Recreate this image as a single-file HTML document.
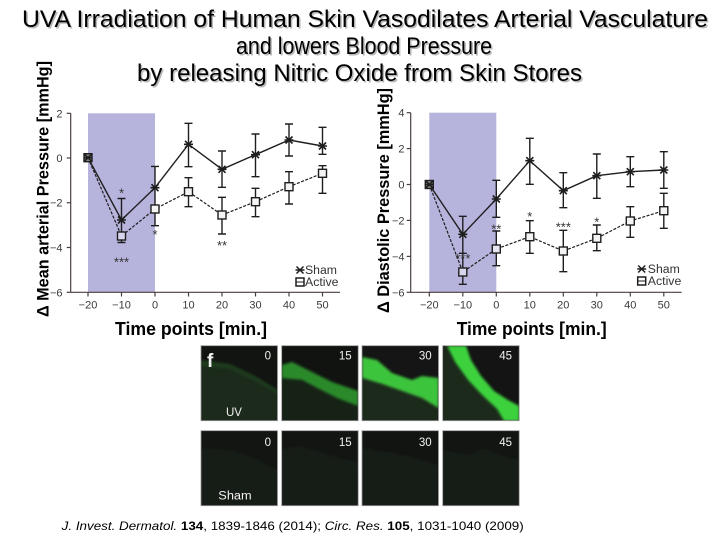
<!DOCTYPE html>
<html><head><meta charset="utf-8"><style>
html,body{margin:0;padding:0;background:#fff;}
svg{display:block;}
</style></head><body>
<svg width="720" height="540" viewBox="0 0 720 540" xmlns="http://www.w3.org/2000/svg">
<defs>
<filter id="bl" x="-20%" y="-20%" width="140%" height="140%"><feGaussianBlur stdDeviation="1.4"/></filter>
<clipPath id="c1"><rect x="201" y="345.7" width="76.5" height="75"/></clipPath>
<clipPath id="c2"><rect x="281.7" y="345.7" width="76.5" height="75"/></clipPath>
<clipPath id="c3"><rect x="362" y="345.7" width="76.5" height="75"/></clipPath>
<clipPath id="c4"><rect x="442.7" y="345.7" width="76.5" height="75"/></clipPath>
<clipPath id="d1"><rect x="201" y="430.7" width="76.5" height="75"/></clipPath>
<clipPath id="d2"><rect x="281.7" y="430.7" width="76.5" height="75"/></clipPath>
<clipPath id="d3"><rect x="362" y="430.7" width="76.5" height="75"/></clipPath>
<clipPath id="d4"><rect x="442.7" y="430.7" width="76.5" height="75"/></clipPath>
</defs>

<!-- Title -->
<g font-family="Liberation Sans, sans-serif" font-size="24" text-anchor="middle">
<g fill="#b8b8b8" transform="translate(1.5,1.5)">
<text x="365" y="27" textLength="686" lengthAdjust="spacingAndGlyphs">UVA Irradiation of Human Skin Vasodilates Arterial Vasculature</text>
<text x="364" y="54" textLength="256" lengthAdjust="spacingAndGlyphs">and lowers Blood Pressure</text>
<text x="359.5" y="81" textLength="445" lengthAdjust="spacingAndGlyphs">by releasing Nitric Oxide from Skin Stores</text>
</g>
<g fill="#000">
<text x="365" y="27" textLength="686" lengthAdjust="spacingAndGlyphs">UVA Irradiation of Human Skin Vasodilates Arterial Vasculature</text>
<text x="364" y="54" textLength="256" lengthAdjust="spacingAndGlyphs">and lowers Blood Pressure</text>
<text x="359.5" y="81" textLength="445" lengthAdjust="spacingAndGlyphs">by releasing Nitric Oxide from Skin Stores</text>
</g>
</g>

<!-- ================= LEFT CHART ================= -->
<rect x="88" y="113.3" width="67" height="179" fill="#b6b3dc"/>
<g stroke="#4a3f3f" stroke-width="1.2" fill="none">
<line x1="70.7" y1="113.3" x2="70.7" y2="292.3"/>
<line x1="70.7" y1="292.3" x2="340" y2="292.3"/>
<line x1="66.7" y1="113.3" x2="70.7" y2="113.3"/>
<line x1="66.7" y1="158" x2="70.7" y2="158"/>
<line x1="66.7" y1="202.7" x2="70.7" y2="202.7"/>
<line x1="66.7" y1="247.5" x2="70.7" y2="247.5"/>
<line x1="66.7" y1="292.3" x2="70.7" y2="292.3"/>
<line x1="88" y1="292.3" x2="88" y2="296.5"/>
<line x1="121.5" y1="292.3" x2="121.5" y2="296.5"/>
<line x1="155" y1="292.3" x2="155" y2="296.5"/>
<line x1="188.5" y1="292.3" x2="188.5" y2="296.5"/>
<line x1="222" y1="292.3" x2="222" y2="296.5"/>
<line x1="255.5" y1="292.3" x2="255.5" y2="296.5"/>
<line x1="289" y1="292.3" x2="289" y2="296.5"/>
<line x1="322.5" y1="292.3" x2="322.5" y2="296.5"/>
</g>
<g font-family="Liberation Sans, sans-serif" font-size="11" fill="#3a3a3a">
<g text-anchor="end">
<text x="62.5" y="117.3">2</text>
<text x="62.5" y="162">0</text>
<text x="62.5" y="206.7">−2</text>
<text x="62.5" y="251.5">−4</text>
<text x="62.5" y="296.3">−6</text>
</g>
<g text-anchor="middle">
<text x="88" y="308.5">−20</text>
<text x="121.5" y="308.5">−10</text>
<text x="155" y="308.5">0</text>
<text x="188.5" y="308.5">10</text>
<text x="222" y="308.5">20</text>
<text x="255.5" y="308.5">30</text>
<text x="289" y="308.5">40</text>
<text x="322.5" y="308.5">50</text>
</g>
</g>
<!-- error bars left -->
<g stroke="#1e1e1e" stroke-width="1.4" fill="none">
<path d="M121.5 198.5V242.5M117.5 198.5h8M117.5 242.5h8"/>
<path d="M155 166.4V225.7M151 166.4h8M151 225.7h8"/>
<path d="M188.5 123.3V166.7M184.5 123.3h8M184.5 166.7h8"/>
<path d="M188.5 177.7V206.7M184.5 177.7h8M184.5 206.7h8"/>
<path d="M222 151V187.3M218 151h8M218 187.3h8"/>
<path d="M222 197.3V234M218 197.3h8M218 234h8"/>
<path d="M255.5 134V176.7M251.5 134h8M251.5 176.7h8"/>
<path d="M255.5 188.3V216.7M251.5 188.3h8M251.5 216.7h8"/>
<path d="M289 124V156M285 124h8M285 156h8"/>
<path d="M289 171.7V204M285 171.7h8M285 204h8"/>
<path d="M322.5 127.3V154.3M318.5 127.3h8M318.5 154.3h8"/>
<path d="M322.5 165.7V193.3M318.5 165.7h8M318.5 193.3h8"/>
</g>
<!-- lines left -->
<polyline points="88,157.7 121.5,220 155,187.7 188.5,144.3 222,169.3 255.5,154.7 289,140 322.5,146" fill="none" stroke="#1e1e1e" stroke-width="1.4"/>
<polyline points="88,157.7 121.5,236 155,209 188.5,191.7 222,215 255.5,201.7 289,186.7 322.5,173.3" fill="none" stroke="#1e1e1e" stroke-width="1.2" stroke-dasharray="3,1.5"/>
<!-- active markers left -->
<g stroke="#1e1e1e" stroke-width="1.4" fill="#f4f4f4">
<rect x="84" y="153.7" width="8" height="8" fill="#888"/>
<rect x="117.5" y="232" width="8" height="8" fill="#d8d6ee"/>
<rect x="151" y="205" width="8" height="8"/>
<rect x="184.5" y="187.7" width="8" height="8"/>
<rect x="218" y="211" width="8" height="8"/>
<rect x="251.5" y="197.7" width="8" height="8"/>
<rect x="285" y="182.7" width="8" height="8"/>
<rect x="318.5" y="169.3" width="8" height="8"/>
</g>
<!-- sham markers left -->
<g stroke="#1e1e1e" stroke-width="1.6" fill="none">
<path d="M84.5 154.2l7 7M91.5 154.2l-7 7M83.5 157.7h9"/>
<path d="M118 216.5l7 7M125 216.5l-7 7M117 220h9"/>
<path d="M151.5 184.2l7 7M158.5 184.2l-7 7M150.5 187.7h9"/>
<path d="M185 140.8l7 7M192 140.8l-7 7M184 144.3h9"/>
<path d="M218.5 165.8l7 7M225.5 165.8l-7 7M217.5 169.3h9"/>
<path d="M252 151.2l7 7M259 151.2l-7 7M251 154.7h9"/>
<path d="M285.5 136.5l7 7M292.5 136.5l-7 7M284.5 140h9"/>
<path d="M319 142.5l7 7M326 142.5l-7 7M318 146h9"/>
</g>
<!-- stars left -->
<g font-family="Liberation Sans, sans-serif" font-size="13" fill="#333" text-anchor="middle">
<text x="121.5" y="197.5">*</text>
<text x="121.5" y="266.5">***</text>
<text x="155" y="239">*</text>
<text x="222" y="250">**</text>
</g>
<!-- legend left -->
<g stroke="#1e1e1e" stroke-width="1.5" fill="none">
<path d="M296.5 266.5l7 7M303.5 266.5l-7 7M295.5 270h9"/>
<rect x="296" y="278" width="8" height="8" fill="#fff"/>
<line x1="296" y1="282" x2="304" y2="282" stroke-width="1"/>
</g>
<g font-family="Liberation Sans, sans-serif" font-size="11.5" fill="#333">
<text x="305" y="274" textLength="32" lengthAdjust="spacingAndGlyphs">Sham</text>
<text x="305" y="286" textLength="33.5" lengthAdjust="spacingAndGlyphs">Active</text>
</g>
<!-- axis labels left -->
<text x="191" y="335" font-family="Liberation Sans, sans-serif" font-weight="bold" font-size="18" text-anchor="middle" textLength="152" lengthAdjust="spacingAndGlyphs" fill="#000">Time points [min.]</text>
<text transform="translate(48.5,189) rotate(-90)" x="0" y="0" font-family="Liberation Sans, sans-serif" font-weight="bold" font-size="17" text-anchor="middle" textLength="256" lengthAdjust="spacingAndGlyphs" fill="#000">Δ Mean arterial Pressure [mmHg]</text>

<!-- ================= RIGHT CHART ================= -->
<rect x="429.3" y="112.7" width="67" height="179.6" fill="#b6b3dc"/>
<g stroke="#4a3f3f" stroke-width="1.2" fill="none">
<line x1="410.7" y1="112.7" x2="410.7" y2="292.3"/>
<line x1="410.7" y1="292.3" x2="681.7" y2="292.3"/>
<line x1="406.7" y1="112.7" x2="410.7" y2="112.7"/>
<line x1="406.7" y1="148.6" x2="410.7" y2="148.6"/>
<line x1="406.7" y1="184.5" x2="410.7" y2="184.5"/>
<line x1="406.7" y1="220.4" x2="410.7" y2="220.4"/>
<line x1="406.7" y1="256.4" x2="410.7" y2="256.4"/>
<line x1="406.7" y1="292.3" x2="410.7" y2="292.3"/>
<line x1="429.3" y1="292.3" x2="429.3" y2="296.5"/>
<line x1="462.8" y1="292.3" x2="462.8" y2="296.5"/>
<line x1="496.3" y1="292.3" x2="496.3" y2="296.5"/>
<line x1="529.8" y1="292.3" x2="529.8" y2="296.5"/>
<line x1="563.3" y1="292.3" x2="563.3" y2="296.5"/>
<line x1="596.8" y1="292.3" x2="596.8" y2="296.5"/>
<line x1="630.3" y1="292.3" x2="630.3" y2="296.5"/>
<line x1="663.8" y1="292.3" x2="663.8" y2="296.5"/>
</g>
<g font-family="Liberation Sans, sans-serif" font-size="11" fill="#3a3a3a">
<g text-anchor="end">
<text x="404.5" y="116.7">4</text>
<text x="404.5" y="152.6">2</text>
<text x="404.5" y="188.5">0</text>
<text x="404.5" y="224.4">−2</text>
<text x="404.5" y="260.4">−4</text>
<text x="404.5" y="296.3">−6</text>
</g>
<g text-anchor="middle">
<text x="429.3" y="308.5">−20</text>
<text x="462.8" y="308.5">−10</text>
<text x="496.3" y="308.5">0</text>
<text x="529.8" y="308.5">10</text>
<text x="563.3" y="308.5">20</text>
<text x="596.8" y="308.5">30</text>
<text x="630.3" y="308.5">40</text>
<text x="663.8" y="308.5">50</text>
</g>
</g>
<!-- error bars right -->
<g stroke="#1e1e1e" stroke-width="1.4" fill="none">
<path d="M462.8 216.3V284.3M458.8 216.3h8M458.8 253.3h8M458.8 284.3h8"/>
<path d="M496.3 180.3V217.3M492.3 180.3h8M492.3 217.3h8"/>
<path d="M496.3 231V265.7M492.3 231h8M492.3 265.7h8"/>
<path d="M529.8 138.3V184.3M525.8 138.3h8M525.8 184.3h8"/>
<path d="M529.8 220.7V253.3M525.8 220.7h8M525.8 253.3h8"/>
<path d="M563.3 172.7V207.7M559.3 172.7h8M559.3 207.7h8"/>
<path d="M563.3 230.3V271.7M559.3 230.3h8M559.3 271.7h8"/>
<path d="M596.8 154V198.3M592.8 154h8M592.8 198.3h8"/>
<path d="M596.8 225V250.7M592.8 225h8M592.8 250.7h8"/>
<path d="M630.3 156.7V186.7M626.3 156.7h8M626.3 186.7h8"/>
<path d="M630.3 206.7V237.3M626.3 206.7h8M626.3 237.3h8"/>
<path d="M663.8 151.7V188.3M659.8 151.7h8M659.8 188.3h8"/>
<path d="M663.8 193.3V228.3M659.8 193.3h8M659.8 228.3h8"/>
</g>
<!-- lines right -->
<polyline points="429.3,184.5 462.8,234.3 496.3,199 529.8,160.7 563.3,190.7 596.8,175.7 630.3,171.7 663.8,170" fill="none" stroke="#1e1e1e" stroke-width="1.4"/>
<polyline points="429.3,184.5 462.8,272 496.3,249 529.8,236.7 563.3,251 596.8,238.3 630.3,221 663.8,210.7" fill="none" stroke="#1e1e1e" stroke-width="1.2" stroke-dasharray="3,1.5"/>
<g stroke="#1e1e1e" stroke-width="1.4" fill="#f4f4f4">
<rect x="425.3" y="180.5" width="8" height="8" fill="#888"/>
<rect x="458.8" y="268" width="8" height="8" fill="#d8d6ee"/>
<rect x="492.3" y="245" width="8" height="8" fill="#e6e5f3"/>
<rect x="525.8" y="232.7" width="8" height="8"/>
<rect x="559.3" y="247" width="8" height="8"/>
<rect x="592.8" y="234.3" width="8" height="8"/>
<rect x="626.3" y="217" width="8" height="8"/>
<rect x="659.8" y="206.7" width="8" height="8"/>
</g>
<g stroke="#1e1e1e" stroke-width="1.6" fill="none">
<path d="M425.8 181l7 7M432.8 181l-7 7M424.8 184.5h9"/>
<path d="M459.3 230.8l7 7M466.3 230.8l-7 7M458.3 234.3h9"/>
<path d="M492.8 195.5l7 7M499.8 195.5l-7 7M491.8 199h9"/>
<path d="M526.3 157.2l7 7M533.3 157.2l-7 7M525.3 160.7h9"/>
<path d="M559.8 187.2l7 7M566.8 187.2l-7 7M558.8 190.7h9"/>
<path d="M593.3 172.2l7 7M600.3 172.2l-7 7M592.3 175.7h9"/>
<path d="M626.8 168.2l7 7M633.8 168.2l-7 7M625.8 171.7h9"/>
<path d="M660.3 166.5l7 7M667.3 166.5l-7 7M659.3 170h9"/>
</g>
<g font-family="Liberation Sans, sans-serif" font-size="13" fill="#333" text-anchor="middle">
<text x="462.8" y="263">***</text>
<text x="496.3" y="233.5">**</text>
<text x="529.8" y="221">*</text>
<text x="563.3" y="231.5">***</text>
<text x="596.8" y="226.5">*</text>
</g>
<g stroke="#1e1e1e" stroke-width="1.5" fill="none">
<path d="M638.2 265.5l7 7M645.2 265.5l-7 7M637.2 269h9"/>
<rect x="637.7" y="277" width="8" height="8" fill="#fff"/>
<line x1="637.7" y1="281" x2="645.7" y2="281" stroke-width="1"/>
</g>
<g font-family="Liberation Sans, sans-serif" font-size="11.5" fill="#333">
<text x="647.8" y="273" textLength="32" lengthAdjust="spacingAndGlyphs">Sham</text>
<text x="647.8" y="285" textLength="33.5" lengthAdjust="spacingAndGlyphs">Active</text>
</g>
<text x="531.7" y="335" font-family="Liberation Sans, sans-serif" font-weight="bold" font-size="18" text-anchor="middle" textLength="150" lengthAdjust="spacingAndGlyphs" fill="#000">Time points [min.]</text>
<text transform="translate(389,200.5) rotate(-90)" x="0" y="0" font-family="Liberation Sans, sans-serif" font-weight="bold" font-size="17" text-anchor="middle" textLength="225" lengthAdjust="spacingAndGlyphs" fill="#000">Δ Diastolic Pressure [mmHg]</text>

<!-- ================= IMAGE PANELS ================= -->
<g clip-path="url(#c1)">
<rect x="201" y="345.7" width="76.5" height="75" fill="#121412"/>
<polygon points="201,362 230,366 255,378 278,392 278,421 201,421" fill="#1a2a1a" filter="url(#bl)"/>
<polygon points="201,360 230,364 255,376 278,390 278,394 255,381 230,369 201,366" fill="#1d3a1d" filter="url(#bl)"/>
</g>
<g clip-path="url(#c2)">
<rect x="281.7" y="345.7" width="76.5" height="75" fill="#111311"/>
<polygon points="281.7,375 300,380 320,390 340,398 358.2,404 358.2,421 281.7,421" fill="#182418" filter="url(#bl)"/>
<polygon points="281.7,365 292,362 312,372 332,382 358.2,391 358.2,406 337,398 317,388 302,380 281.7,378" fill="#2c8a2c" filter="url(#bl)"/>
</g>
<g clip-path="url(#c3)">
<rect x="362" y="345.7" width="76.5" height="75" fill="#141514"/>
<polygon points="362,378 382,384 402,391 422,396 438.5,405 438.5,421 362,421" fill="#1a2a1a" filter="url(#bl)"/>
<polygon points="362,357 377,360 392,373 412,380 422,376 438.5,378 438.5,408 422,398 402,391 382,384 362,378" fill="#3cc43c" filter="url(#bl)"/>
</g>
<g clip-path="url(#c4)">
<rect x="442.7" y="345.7" width="76.5" height="75" fill="#131413"/>
<polygon points="442.7,345.7 447,345.7 455,362 468,380 482,395 498,410 504,421 442.7,421" fill="#1b2c1b" filter="url(#bl)"/>
<polygon points="447,345.7 466,345.7 471,360 481,376 494,391 508,400 519.2,406 519.2,421 504,421 497,409 482,395 468,380 455,362" fill="#3cd23c" filter="url(#bl)"/>
</g>
<g fill="none" stroke="#9a9a9a" stroke-width="0.8">
<rect x="201" y="345.7" width="76.5" height="75"/>
<rect x="281.7" y="345.7" width="76.5" height="75"/>
<rect x="362" y="345.7" width="76.5" height="75"/>
<rect x="442.7" y="345.7" width="76.5" height="75"/>
</g>
<g clip-path="url(#d1)">
<rect x="201" y="430.7" width="76.5" height="75" fill="#131513"/>
<polygon points="201,448 230,450 255,458 278,470 278,506 201,506" fill="#161d16" filter="url(#bl)"/>
</g>
<g clip-path="url(#d2)">
<rect x="281.7" y="430.7" width="76.5" height="75" fill="#131513"/>
<polygon points="281.7,450 300,446 320,452 340,458 358.2,462 358.2,506 281.7,506" fill="#161e16" filter="url(#bl)"/>
</g>
<g clip-path="url(#d3)">
<rect x="362" y="430.7" width="76.5" height="75" fill="#121412"/>
<polygon points="362,448 390,452 415,458 438.5,465 438.5,506 362,506" fill="#141a14" filter="url(#bl)"/>
</g>
<g clip-path="url(#d4)">
<rect x="442.7" y="430.7" width="76.5" height="75" fill="#131513"/>
<polygon points="442.7,450 470,455 485,448 500,455 519.2,460 519.2,506 442.7,506" fill="#161e16" filter="url(#bl)"/>
</g>
<g fill="none" stroke="#9a9a9a" stroke-width="0.8">
<rect x="201" y="430.7" width="76.5" height="75"/>
<rect x="281.7" y="430.7" width="76.5" height="75"/>
<rect x="362" y="430.7" width="76.5" height="75"/>
<rect x="442.7" y="430.7" width="76.5" height="75"/>
</g>
<g font-family="Liberation Sans, sans-serif" font-size="11.5" fill="#f2f2f2">
<g text-anchor="end">
<text x="271" y="359.5">0</text>
<text x="351.7" y="359.5">15</text>
<text x="431.7" y="359.5">30</text>
<text x="512" y="359.5">45</text>
<text x="271" y="446">0</text>
<text x="351.7" y="446">15</text>
<text x="431.7" y="446">30</text>
<text x="512" y="446">45</text>
</g>
<text x="226" y="416">UV</text>
<text x="218.3" y="499.5" textLength="33.4" lengthAdjust="spacingAndGlyphs">Sham</text>
<text x="207" y="367" font-size="19" font-weight="bold">f</text>
</g>

<!-- Footer -->
<text x="61.7" y="530" font-family="Liberation Sans, sans-serif" font-size="12" fill="#000" textLength="462" lengthAdjust="spacingAndGlyphs"><tspan font-style="italic">J. Invest. Dermatol.</tspan> <tspan font-weight="bold">134</tspan>, 1839-1846 (2014); <tspan font-style="italic">Circ. Res.</tspan> <tspan font-weight="bold">105</tspan>, 1031-1040 (2009)</text>
</svg>
</body></html>
